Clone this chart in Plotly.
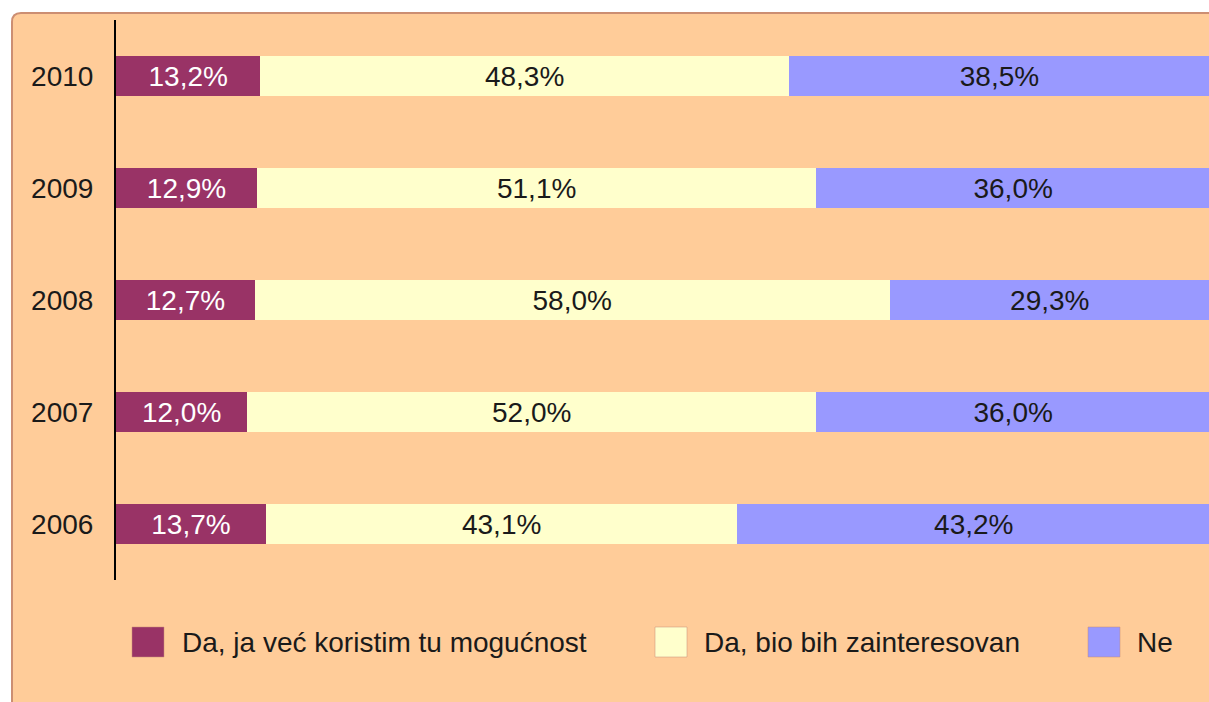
import plotly.graph_objects as go

# ---- data ----
years = ["2006", "2007", "2008", "2009", "2010"]
series_names = ["Da, ja već koristim tu mogućnost", "Da, bio bih zainteresovan", "Ne"]
koristim = [13.7, 12.0, 12.7, 12.9, 13.2]
zainteresovan = [43.1, 52.0, 58.0, 51.1, 48.3]
ne = [43.2, 36.0, 29.3, 36.0, 38.5]
series_values = [koristim, zainteresovan, ne]

# ---- styles ----
colors = ["#993366", "#FFFFCC", "#9999FF"]
text_colors = ["#FFFFFF", "#1a1a1a", "#1a1a1a"]
FONT = "Liberation Sans, Arial, sans-serif"
FS = 28

W, H = 1209, 702
L, R, T, B = 116, 0, 20, 122
PW, PH = W - L - R, H - T - B


def px(x):
    return (x - L) / PW


def py(y):
    return (H - B - y) / PH


def fmt(v):
    return f"{v:.1f}".replace(".", ",") + "%"


fig = go.Figure()
for name, vals, c, tc in zip(series_names, series_values, colors, text_colors):
    fig.add_trace(go.Bar(
        y=years, x=vals, orientation="h", name=name,
        marker=dict(color=c, line=dict(width=0)),
        text=[fmt(v) for v in vals],
        textposition="inside", insidetextanchor="middle",
        textfont=dict(family=FONT, size=FS, color=tc),
        constraintext="none",
        showlegend=False, hoverinfo="skip",
    ))

shapes = []
# background panel with rounded top-left corner
x0, y0, r = 12, 13, 9
path = (f"M {px(x0)},{py(720)} L {px(x0)},{py(y0 + r)} "
        f"Q {px(x0)},{py(y0)} {px(x0 + r)},{py(y0)} "
        f"L {px(1240)},{py(y0)} L {px(1240)},{py(720)} Z")
shapes.append(dict(type="path", path=path, xref="paper", yref="paper",
                   fillcolor="#FFCC99", line=dict(color="#CC8E72", width=2),
                   layer="below"))

# manual legend
legend_sq_x = [132, 655, 1088]
legend_txt_x = [180, 702, 1135]
annotations = []
for name, c, sx, tx in zip(series_names, colors, legend_sq_x, legend_txt_x):
    shapes.append(dict(type="rect", xref="paper", yref="paper",
                       x0=px(sx), x1=px(sx + 32), y0=py(657), y1=py(627),
                       fillcolor=c, line=dict(color="rgba(200,140,120,0.5)", width=1)))
    annotations.append(dict(xref="paper", yref="paper", x=px(tx), y=py(642),
                            text=name, showarrow=False, xanchor="left", yanchor="middle",
                            font=dict(family=FONT, size=FS, color="#1a1a1a")))

fig.update_layout(
    width=W, height=H,
    margin=dict(l=L, r=R, t=T, b=B),
    barmode="stack", bargap=0.64,
    paper_bgcolor="white", plot_bgcolor="rgba(0,0,0,0)",
    shapes=shapes, annotations=annotations,
    xaxis=dict(range=[0, 99.9], visible=False, fixedrange=True),
    yaxis=dict(showline=True, linecolor="black", linewidth=2,
               showgrid=False, zeroline=False, ticks="",
               ticklabelstandoff=15, fixedrange=True,
               tickfont=dict(family=FONT, size=FS, color="#1a1a1a")),
    uniformtext=dict(mode=False),
)

fig.write_html("out.html",
               config={"displayModeBar": False, "staticPlot": True},
               post_script="document.body.style.margin='0';document.body.style.overflow='hidden';")
